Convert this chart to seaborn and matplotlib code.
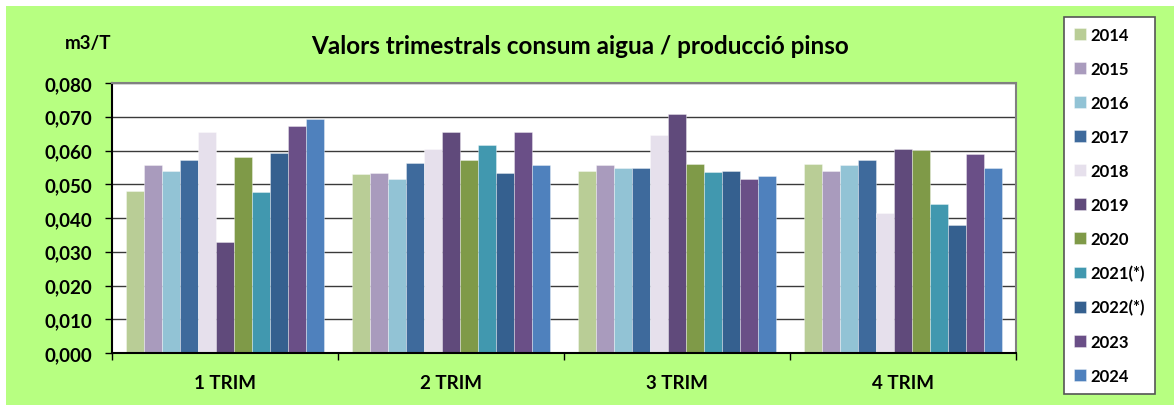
import matplotlib
matplotlib.use("Agg")
import matplotlib.pyplot as plt
from matplotlib.patches import Rectangle
from matplotlib.ticker import FuncFormatter, FixedLocator
import seaborn as sns
import pandas as pd

# ---- data ----
quarters = ["1 TRIM", "2 TRIM", "3 TRIM", "4 TRIM"]
years = ["2014", "2015", "2016", "2017", "2018", "2019", "2020",
         "2021(*)", "2022(*)", "2023", "2024"]
v2014 = [0.0480, 0.0530, 0.0540, 0.0560]
v2015 = [0.0558, 0.0534, 0.0556, 0.0540]
v2016 = [0.0540, 0.0517, 0.0547, 0.0558]
v2017 = [0.0571, 0.0564, 0.0547, 0.0573]
v2018 = [0.0654, 0.0603, 0.0647, 0.0416]
v2019 = [0.0329, 0.0656, 0.0707, 0.0605]
v2020 = [0.0581, 0.0571, 0.0561, 0.0602]
v2021 = [0.0477, 0.0615, 0.0536, 0.0441]
v2022 = [0.0594, 0.0534, 0.0540, 0.0378]
v2023 = [0.0672, 0.0656, 0.0517, 0.0591]
v2024 = [0.0693, 0.0557, 0.0525, 0.0549]
series = [v2014, v2015, v2016, v2017, v2018, v2019, v2020,
          v2021, v2022, v2023, v2024]
colors = ["#B9CD96", "#A99BBD", "#92C3D5", "#3E6A9C", "#E6E0EC", "#604A7B",
          "#7F9A48", "#4198AF", "#35608F", "#6A4F87", "#4F81BD"]

rows = []
for y, vals in zip(years, series):
    for q, v in zip(quarters, vals):
        rows.append({"quarter": q, "year": y, "value": v})
df = pd.DataFrame(rows)

# ---- figure ----
W, H = 1174, 406
fig = plt.figure(figsize=(W / 100, H / 100), dpi=100)
fig.patch.set_facecolor("white")
GREEN = "#B7FF81"
fig.add_artist(Rectangle((6 / W, 0), 1 - 6 / W, 1 - 7 / H, transform=fig.transFigure,
                         facecolor=GREEN, edgecolor="none", zorder=-10))

plt.rcParams["font.family"] = ["Lato", "DejaVu Sans"]
plt.rcParams["font.weight"] = "bold"

ax = fig.add_axes([112 / W, 1 - 354 / H, (1016 - 112) / W, (354 - 84) / H])
ax.set_facecolor("white")

sns.barplot(data=df, x="quarter", y="value", hue="year", order=quarters,
            hue_order=years, palette=colors, width=0.88, ax=ax,
            edgecolor="#FFFFFF80", linewidth=0.5, legend=True, saturation=1)

ax.set_xlim(-0.5, 3.5)
ax.set_ylim(0, 0.080)
ax.set_yticks([i / 1000 for i in range(0, 81, 10)])
ax.yaxis.set_major_formatter(FuncFormatter(lambda v, p: f"{v:.3f}".replace(".", ",")))
ax.yaxis.grid(True, color="#3A3A3A", linewidth=1.0)
ax.set_axisbelow(True)
ax.set_xlabel("")
ax.set_ylabel("")

ax.tick_params(axis="y", direction="out", length=5, width=1, color="black",
               labelsize=13.5, pad=9)
ax.tick_params(axis="x", which="major", length=0, labelsize=13.5, pad=15)
ax.xaxis.set_minor_locator(FixedLocator([-0.5, 0.5, 1.5, 2.5, 3.5]))
ax.tick_params(axis="x", which="minor", direction="out", length=5, width=1,
               color="black")
for lbl in ax.get_xticklabels() + ax.get_yticklabels():
    lbl.set_fontweight("bold")

for side in ["left", "bottom"]:
    ax.spines[side].set_color("black")
    ax.spines[side].set_linewidth(1.5)
for side in ["top", "right"]:
    ax.spines[side].set_color("#808080")
    ax.spines[side].set_linewidth(1.5)

handles, labels = ax.get_legend_handles_labels()
ax.legend_.remove()
leg = fig.legend(handles, labels, loc="upper left",
                 bbox_to_anchor=(1064 / W, 1 - 18 / H),
                 frameon=True, fancybox=False, framealpha=1,
                 edgecolor="#555555", facecolor="white",
                 prop={"weight": "bold", "size": 12},
                 handlelength=0.7, handleheight=0.7, handletextpad=0.3,
                 labelspacing=1.08, borderpad=0.6, borderaxespad=0)
leg.get_frame().set_linewidth(1.2)

fig.text(580 / W, 1 - 47 / H, "Valors trimestrals consum aigua / producció pinso",
         ha="center", va="center", fontsize=17.5, fontweight="bold")
fig.text(88 / W, 1 - 44 / H, "m3/T", ha="center", va="center",
         fontsize=13.5, fontweight="bold")

fig.savefig("out.png", dpi=100, facecolor=fig.get_facecolor())
